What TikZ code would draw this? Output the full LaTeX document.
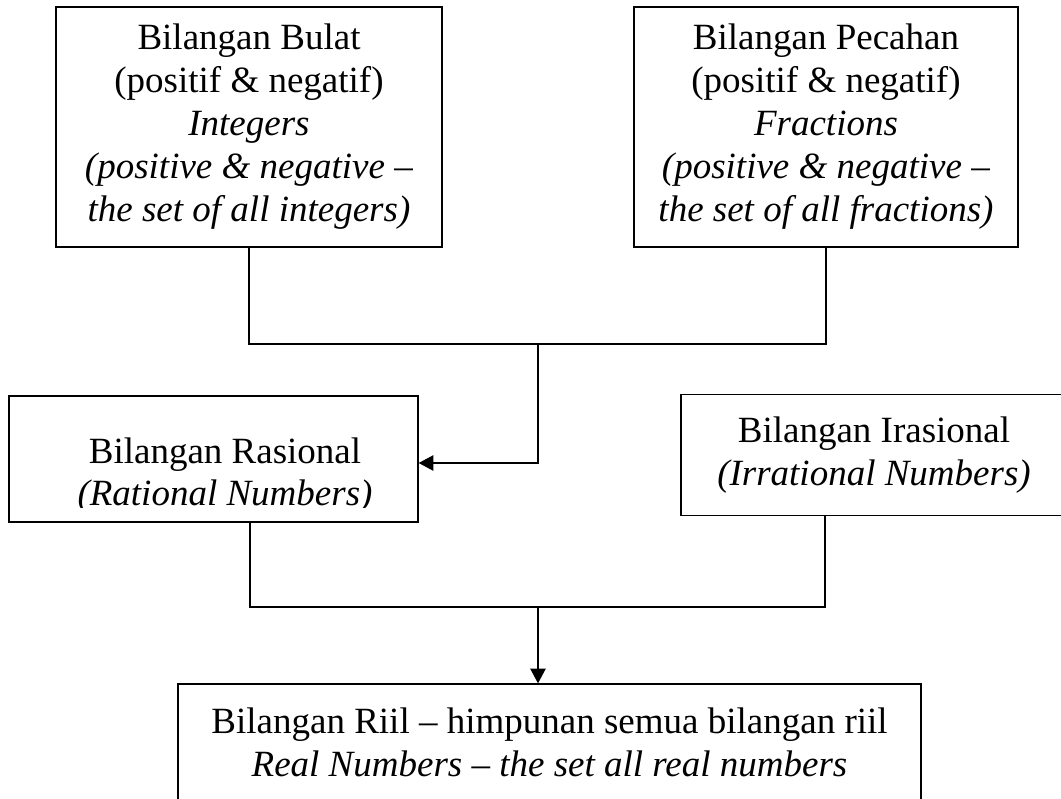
\documentclass[tikz,border=0pt]{standalone}
\usepackage{fontspec}
\setmainfont{Liberation Serif}
\usetikzlibrary{arrows.meta,calc}
\begin{document}
\begin{tikzpicture}[x=0.75pt,y=-0.75pt,
  txt/.style={inner sep=0pt,align=center,font=\fontsize{27.75}{32.25}\selectfont},
  box/.style={txt,draw,line width=1pt,rectangle},
  conn/.style={line width=1pt},
  arr/.style={conn,-{Triangle[length=11pt,width=11.5pt]}}]
\useasboundingbox (0,0) rectangle (1061,799);
\clip (0,0) rectangle (1061,799);

\node[box,minimum width=289.5pt,minimum height=180pt] (A) at (249,127)
  {Bilangan Bulat\\(positif \& negatif)\\\textit{Integers}\\\textit{(positive \& negative --}\\\textit{the set of all integers)}};
\node[box,minimum width=288pt,minimum height=180pt] (B) at (826,127)
  {Bilangan Pecahan\\(positif \& negatif)\\\textit{Fractions}\\\textit{(positive \& negative --}\\\textit{the set of all fractions)}};

\node[box,minimum width=306.75pt,minimum height=94.5pt] (C) at (213.5,459) {};
\begin{scope}
  \clip (9,396) rectangle (418,507);
  \node[txt,anchor=base] (Ct1) at (225,463) {Bilangan Rasional};
  \node[txt,anchor=base] (Ct2) at (225,505) {\textit{(Rational Numbers)}};
\end{scope}

\node[box,minimum width=289.5pt,minimum height=90.75pt] (D) at (874,455)
  {Bilangan Irasional\\\textit{(Irrational Numbers)}};

\node[box,minimum width=557.25pt,minimum height=87.75pt] (E) at (549.5,742.5)
  {Bilangan Riil -- himpunan semua bilangan riil\\\textit{Real Numbers -- the set all real numbers}};

\coordinate (j1) at (538,344);
\draw[conn] (A.south) |- (j1) -| (B.south);
\draw[arr] (j1) |- ($(C.east)+(0,4)$);

\coordinate (l2) at (250,607);
\coordinate (r2) at (825,607);
\coordinate (j2) at (538,607);
\draw[conn] (C.south -| l2) -- (l2) -- (r2) -- (D.south -| r2);
\draw[arr] (j2) -- (E.north -| j2);
\end{tikzpicture}
\end{document}
